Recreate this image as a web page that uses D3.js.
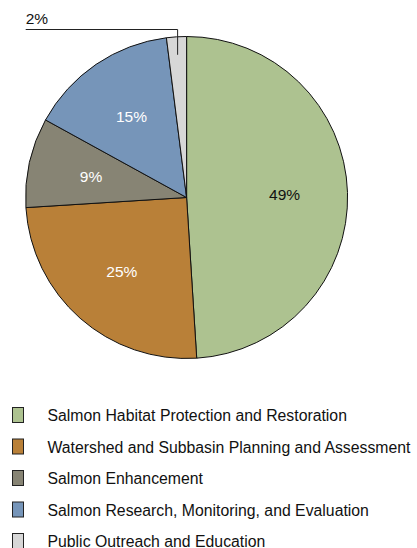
<!DOCTYPE html>
<html>
<head>
<meta charset="utf-8">
<script src="https://cdn.jsdelivr.net/npm/d3@7"></script>
<style>
  body { margin: 0; background: #fff; }
  text { font-family: "Liberation Sans", Arial, Helvetica, sans-serif; }
</style>
</head>
<body>
<div id="chart"></div>
<script>
// data
const categories = [
  "Salmon Habitat Protection and Restoration",
  "Watershed and Subbasin Planning and Assessment",
  "Salmon Enhancement",
  "Salmon Research, Monitoring, and Evaluation",
  "Public Outreach and Education"
];
const shares = [49, 25, 9, 15, 2];
const colors = ["#adc290", "#b98038", "#878474", "#7695b9", "#d7d7d7"];
const labelColors = ["#111", "#fff", "#fff", "#fff", "#111"];

const width = 417;
const height = 548;
const cx = 186.6, cy = 197.5, radius = 161;

const svg = d3.select("#chart")
  .append("svg")
  .attr("width", width)
  .attr("height", height);

const data = categories.map((c, i) => ({ name: c, value: shares[i], i }));

const pie = d3.pie()
  .value(d => d.value)
  .sort(null);

const arcs = pie(data);

const arc = d3.arc().innerRadius(0).outerRadius(radius);
const labelArc = d3.arc().innerRadius(98).outerRadius(98);
const leaderArc = d3.arc().innerRadius(143).outerRadius(143);

const g = svg.append("g").attr("transform", `translate(${cx},${cy})`);

// slices
g.selectAll(".slice")
  .data(arcs)
  .enter()
  .append("path")
  .attr("class", "slice")
  .attr("d", arc)
  .style("fill", d => colors[d.data.i])
  .style("stroke", "#111")
  .style("stroke-width", 1);

// labels inside slices (skip tiny one)
g.selectAll(".label")
  .data(arcs.filter(d => d.data.value >= 5))
  .enter()
  .append("text")
  .attr("class", "label")
  .attr("transform", d => `translate(${labelArc.centroid(d)})`)
  .attr("text-anchor", "middle")
  .attr("dy", "0.36em")
  .style("font-size", "15.5px")
  .style("fill", d => labelColors[d.data.i])
  .text(d => d.data.value + "%");

// leader for the small slice
const small = arcs.filter(d => d.data.value < 5);
small.forEach(d => {
  const [px, py] = leaderArc.centroid(d);
  const topY = 29.5 - cy;
  const leftX = 25.7 - cx;
  g.append("polyline")
    .attr("points", `${px},${py} ${px},${topY} ${leftX},${topY}`)
    .style("fill", "none")
    .style("stroke", "#222")
    .style("stroke-width", 1);
  g.append("text")
    .attr("x", leftX)
    .attr("y", topY - 5.5)
    .style("font-size", "15.5px")
    .style("fill", labelColors[d.data.i])
    .text(d.data.value + "%");
});

// legend
const legendY = d3.scalePoint()
  .domain(categories)
  .range([421, 547]);

const legend = svg.selectAll(".legend")
  .data(categories)
  .enter()
  .append("g")
  .attr("class", "legend")
  .attr("transform", d => `translate(0,${legendY(d)})`);

legend.append("rect")
  .attr("x", 12.5)
  .attr("y", -13.5)
  .attr("width", 11)
  .attr("height", 15)
  .style("fill", (d, i) => colors[i])
  .style("stroke", "#222")
  .style("stroke-width", 1);

legend.append("text")
  .attr("x", 47.5)
  .attr("y", 0)
  .style("font-size", "15.8px")
  .style("fill", "#111")
  .text(d => d);
</script>
</body>
</html>
